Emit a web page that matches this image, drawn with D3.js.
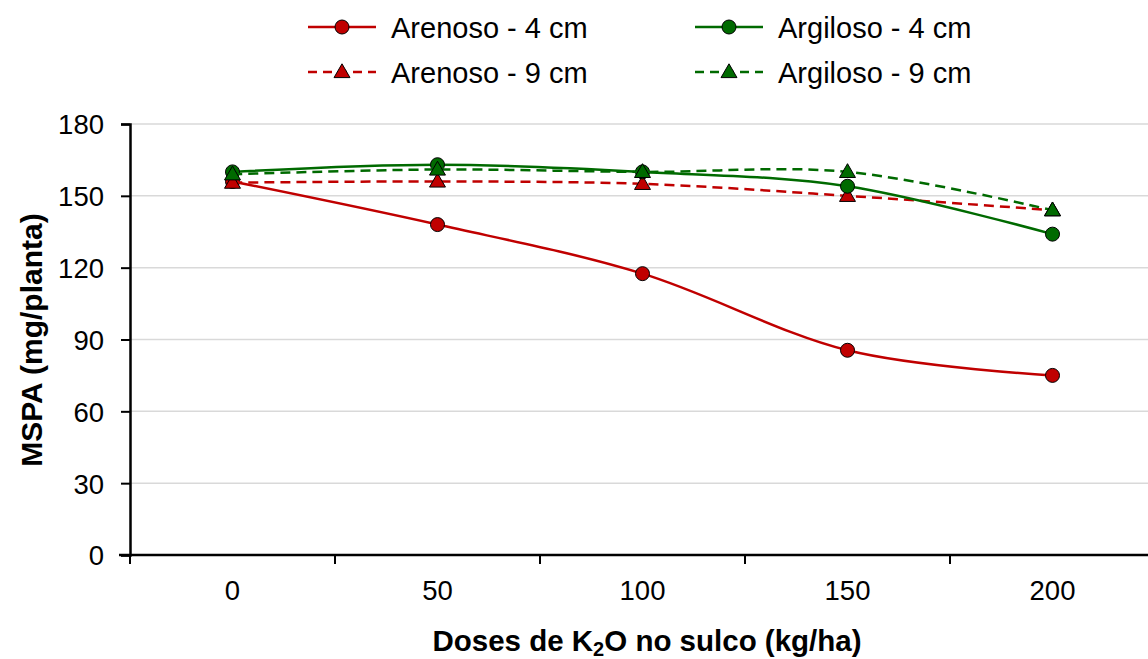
<!DOCTYPE html>
<html>
<head>
<meta charset="utf-8">
<script src="https://cdn.jsdelivr.net/npm/d3@7"></script>
<style>
  body { margin: 0; background: #fff; }
  svg { font-family: "Liberation Sans", Arial, sans-serif; }
</style>
</head>
<body>
<svg id="chart" width="1148" height="659"></svg>
<script>
const doses = ["0", "50", "100", "150", "200"]
const yTicks = [0, 30, 60, 90, 120, 150, 180]

const arenoso4 = [156, 138, 117.5, 85.5, 75]
const arenoso9 = [155.5, 156, 155, 150, 144]
const argiloso4 = [160, 163, 160, 154, 134]
const argiloso9 = [159, 161, 160, 160, 144]

const red = "#c00000"
const green = "#006a00"

// drawing order matches the reference overlap
const series = [
  {name: "Arenoso - 4 cm", values: arenoso4, color: red, dash: null, marker: "circle"},
  {name: "Arenoso - 9 cm", values: arenoso9, color: red, dash: "10,6", marker: "triangle"},
  {name: "Argiloso - 4 cm", values: argiloso4, color: green, dash: null, marker: "circle"},
  {name: "Argiloso - 9 cm", values: argiloso9, color: green, dash: "10,6", marker: "triangle"}
]

const svg = d3.select("#chart")
const plotLeft = 130, plotRight = 1155, plotTop = 124, plotBottom = 555

const x = d3.scaleBand().domain(doses).range([plotLeft, plotRight]).paddingInner(0).paddingOuter(0)
const y = d3.scaleLinear().domain([0, 180]).range([plotBottom, plotTop])

// gridlines
svg.append("g")
  .selectAll("line")
  .data(yTicks.filter(d => d > 0))
  .enter().append("line")
  .attr("x1", plotLeft).attr("x2", 1148)
  .attr("y1", d => y(d)).attr("y2", d => y(d))
  .attr("stroke", "#d9d9d9").attr("stroke-width", 1.5)

// y axis
const axisY = d3.axisLeft(y).tickValues(yTicks).tickSize(9).tickPadding(17)
const gy = svg.append("g").attr("transform", "translate(" + plotLeft + ",0)").call(axisY)
gy.attr("font-size", null).attr("font-family", null)
gy.select(".domain").attr("stroke", "#000").attr("stroke-width", 2.5)
gy.selectAll(".tick line").attr("stroke", "#000").attr("stroke-width", 2)
gy.selectAll(".tick text").attr("font-size", 27.5).attr("fill", "#000").attr("dy", "0.36em")

// x axis: ticks between categories
const bounds = d3.range(doses.length + 1).map(i => plotLeft + i * x.bandwidth())
const gx = svg.append("g")
gx.append("line").attr("x1", plotLeft - 11).attr("x2", 1148)
  .attr("y1", plotBottom).attr("y2", plotBottom)
  .attr("stroke", "#000").attr("stroke-width", 2.5)
gx.selectAll(".xt").data(bounds).enter().append("line")
  .attr("x1", d => d).attr("x2", d => d)
  .attr("y1", plotBottom).attr("y2", plotBottom + 9)
  .attr("stroke", "#000").attr("stroke-width", 2)
gx.selectAll("text").data(doses).enter().append("text")
  .attr("x", d => x(d) + x.bandwidth() / 2)
  .attr("y", 600)
  .attr("text-anchor", "middle")
  .attr("font-size", 27.5)
  .text(d => d)

// axis titles
const xt = svg.append("text")
  .attr("x", 647).attr("y", 651)
  .attr("text-anchor", "middle")
  .attr("font-size", 29.5).attr("font-weight", "bold")
xt.append("tspan").text("Doses de K")
xt.append("tspan").attr("font-size", 20).attr("dy", 5).text("2")
xt.append("tspan").attr("dy", -5).text("O no sulco (kg/ha)")

svg.append("text")
  .attr("transform", "translate(42,340) rotate(-90)")
  .attr("text-anchor", "middle")
  .attr("font-size", 30).attr("font-weight", "bold")
  .text("MSPA (mg/planta)")

const line = d3.line()
  .x((d, i) => x(doses[i]) + x.bandwidth() / 2)
  .y(d => y(d))
  .curve(d3.curveCardinal.tension(0))

const tri = d3.symbol().type(d3.symbolTriangle).size(110)

function drawMarker (g, type, color, cx, cy) {
  if (type === "circle") {
    g.append("circle").attr("cx", cx).attr("cy", cy).attr("r", 7)
      .attr("fill", color).attr("stroke", "#000").attr("stroke-width", 1)
  } else {
    g.append("path").attr("d", tri()).attr("transform", "translate(" + cx + "," + (cy + 1) + ")")
      .attr("fill", color).attr("stroke", "#000").attr("stroke-width", 1)
  }
}

series.forEach(s => {
  const g = svg.append("g")
  g.append("path")
    .attr("d", line(s.values))
    .attr("fill", "none")
    .attr("stroke", s.color)
    .attr("stroke-width", 2.5)
    .attr("stroke-dasharray", s.dash)
  s.values.forEach((v, i) => drawMarker(g, s.marker, s.color, x(doses[i]) + x.bandwidth() / 2, y(v)))
})

// legend
const legendPos = [
  {s: series[0], lx: 308, ly: 27},
  {s: series[1], lx: 308, ly: 72},
  {s: series[2], lx: 695, ly: 27},
  {s: series[3], lx: 695, ly: 72}
]
legendPos.forEach(p => {
  const g = svg.append("g")
  g.append("line").attr("x1", p.lx).attr("x2", p.lx + 68)
    .attr("y1", p.ly).attr("y2", p.ly)
    .attr("stroke", p.s.color).attr("stroke-width", 2.5)
    .attr("stroke-dasharray", p.s.dash ? "9,6" : null)
  drawMarker(g, p.s.marker, p.s.color, p.lx + 34, p.ly)
  g.append("text").attr("x", p.lx + 83).attr("y", p.ly + 10.5)
    .attr("font-size", 29).text(p.s.name)
})
</script>
</body>
</html>
